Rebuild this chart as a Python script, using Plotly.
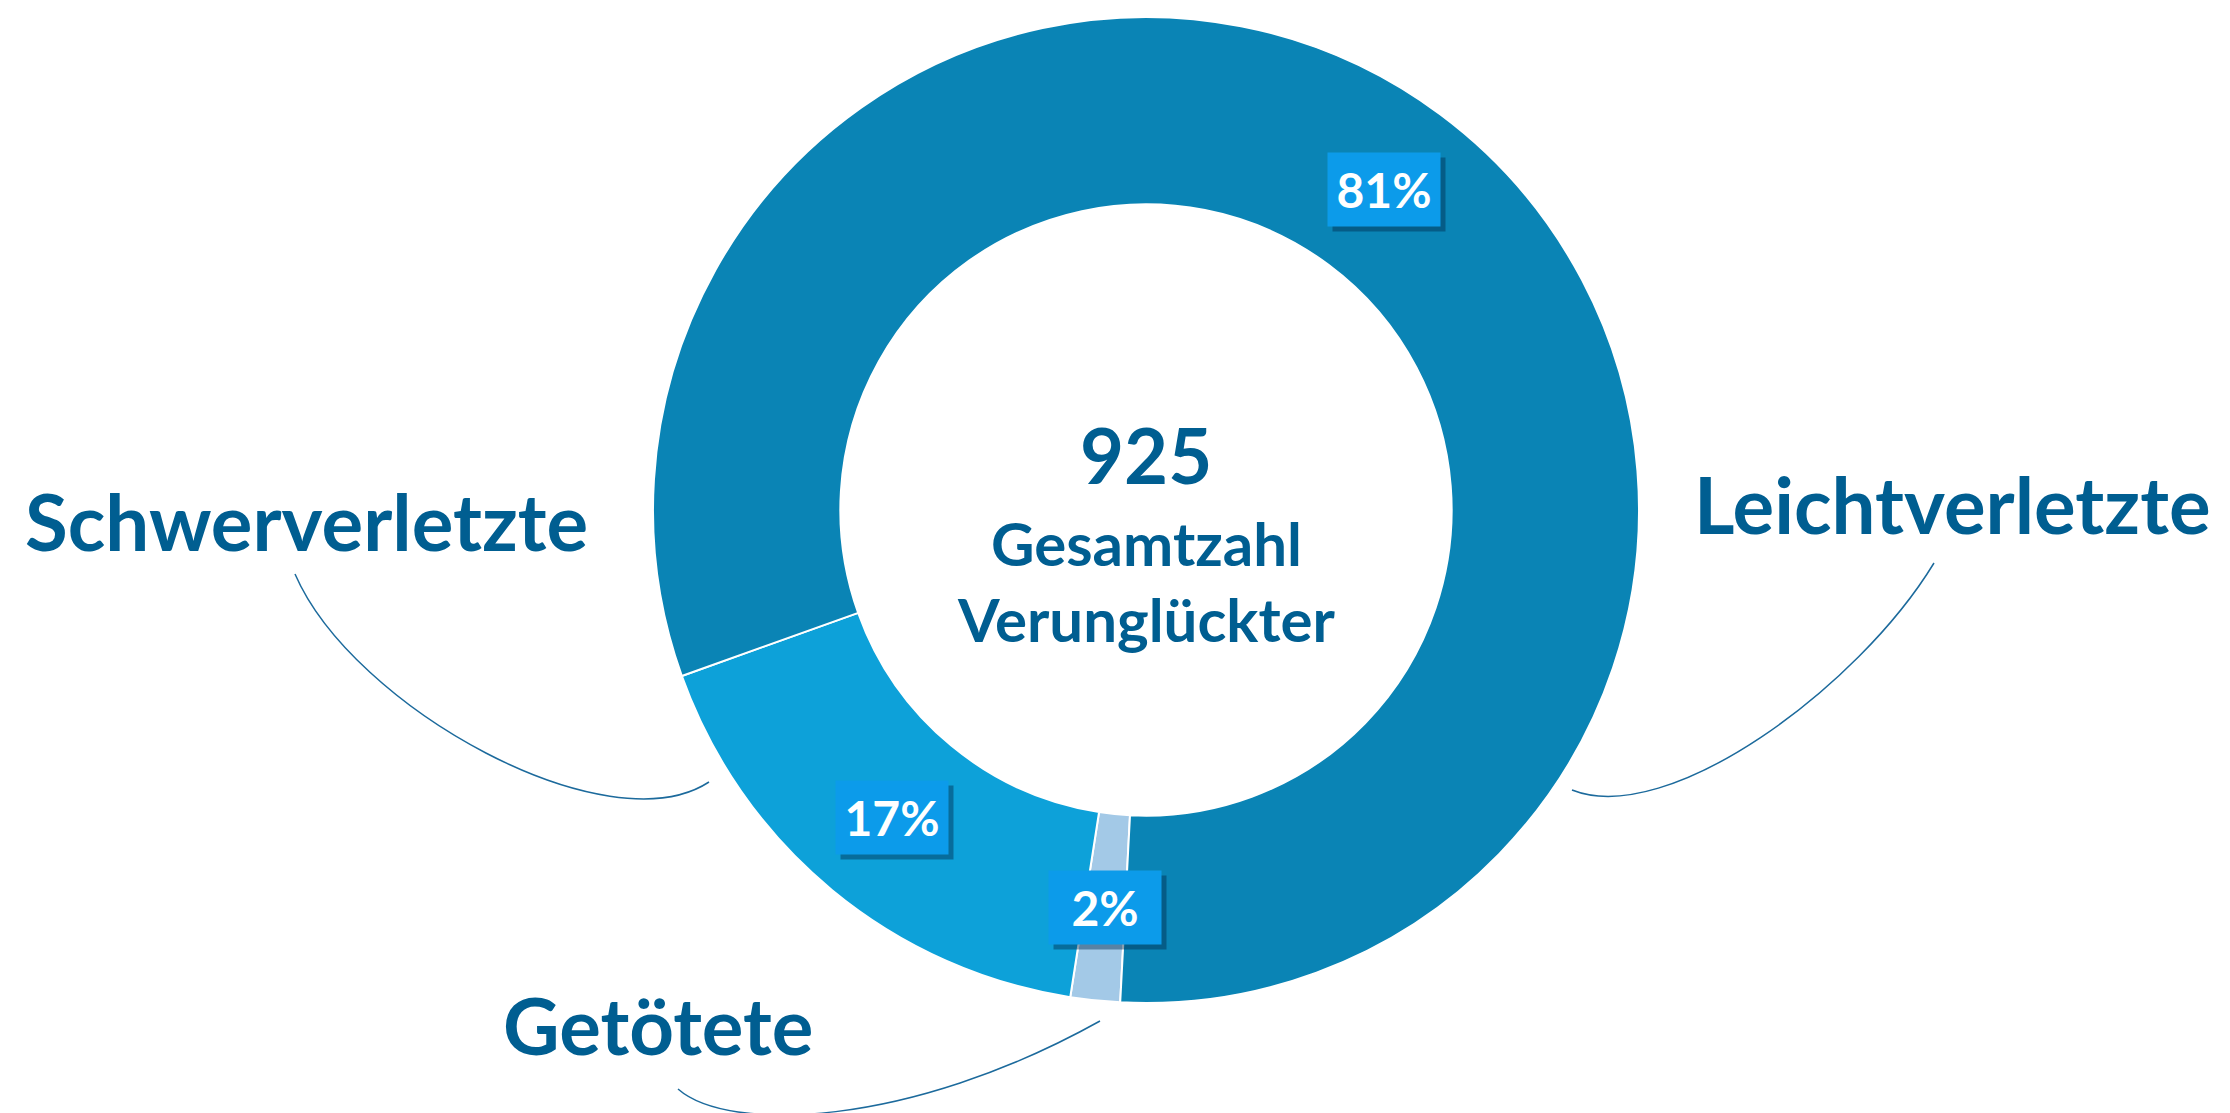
import math
import plotly.graph_objects as go

# data
categories = ["Getötete", "Schwerverletzte", "Leichtverletzte"]
values = [15, 158, 752]
total_label = "925"
caption_lines = ["Gesamtzahl", "Verunglückter"]
slice_colors = ["#A3C9E7", "#0DA1D9", "#0A84B5"]

W, H = 2230, 1113
CX, CY, R = 1138, 502, 493   # donut centre / outer radius in px
HOLE = 0.62
ROTATION = 183               # first slice starts just past 6 o'clock
TEXT_BLUE = "#005E91"
BOX_BLUE = "#0C9BEA"
FONT = "Lato"


def px(x, y):
    return x / W, 1 - y / H


def label(x, y, text, size, color=TEXT_BLUE, **kw):
    xp, yp = px(x, y)
    return dict(x=xp, y=yp, xref="paper", yref="paper", text=text, showarrow=False,
                xanchor="center", yanchor="middle",
                font=dict(family=FONT, size=size, color=color), **kw)


fig = go.Figure(go.Pie(
    labels=categories, values=values,
    hole=HOLE, sort=False, direction="clockwise", rotation=ROTATION,
    marker=dict(colors=slice_colors, line=dict(color="white", width=2)),
    textinfo="none", hoverinfo="label+value+percent",
    domain=dict(x=[(CX - R) / W, (CX + R) / W], y=[1 - (CY + R) / H, 1 - (CY - R) / H]),
))

# percentage boxes in the middle of each ring segment
tot = sum(values)
cum = 0
annotations = []
for v in values:
    mid = math.radians(ROTATION) + (cum + v / 2) / tot * 2 * math.pi
    cum += v
    r = R * (1 + HOLE) / 2
    bx = CX + r * math.sin(mid)
    by = CY - r * math.cos(mid)
    pct = f"{round(v / tot * 100)}%"
    annotations.append(label(bx, by, "", 10, width=104, height=65, borderpad=4,
                             bgcolor="rgba(0,45,80,0.45)", xshift=5, yshift=-5))
    annotations.append(label(bx, by, f"<b>{pct}</b>", 48, color="white",
                             width=104, height=65, borderpad=4, bgcolor=BOX_BLUE))

# centre text
annotations.append(label(CX, 446, f"<b>{total_label}</b>", 76))
annotations.append(label(CX, 535, f"<b>{caption_lines[0]}</b>", 60))
annotations.append(label(CX, 611, f"<b>{caption_lines[1]}</b>", 60))

# category labels
label_pos = {"Schwerverletzte": (298, 513), "Leichtverletzte": (1944, 496), "Getötete": (650, 1017)}
for name, (lx, ly) in label_pos.items():
    annotations.append(label(lx, ly, f"<b>{name}</b>", 78))


def curve(p0, c1, c2, p1):
    pts = [px(*p) for p in (p0, c1, c2, p1)]
    return "M {} {} C {} {}, {} {}, {} {}".format(*[c for p in pts for c in p])


leaders = [
    curve((287, 566), (345, 700), (600, 840), (701, 774)),
    curve((1926, 555), (1850, 680), (1660, 820), (1564, 782)),
    curve((670, 1081), (720, 1125), (900, 1120), (1092, 1013)),
]
shapes = [dict(type="path", path=p, xref="paper", yref="paper",
               line=dict(color="#1C6A9C", width=1.5)) for p in leaders]

fig.update_layout(width=W, height=H, margin=dict(l=0, r=0, t=0, b=0),
                  showlegend=False, paper_bgcolor="white", plot_bgcolor="white",
                  annotations=annotations, shapes=shapes)
fig.write_html("out.html")
